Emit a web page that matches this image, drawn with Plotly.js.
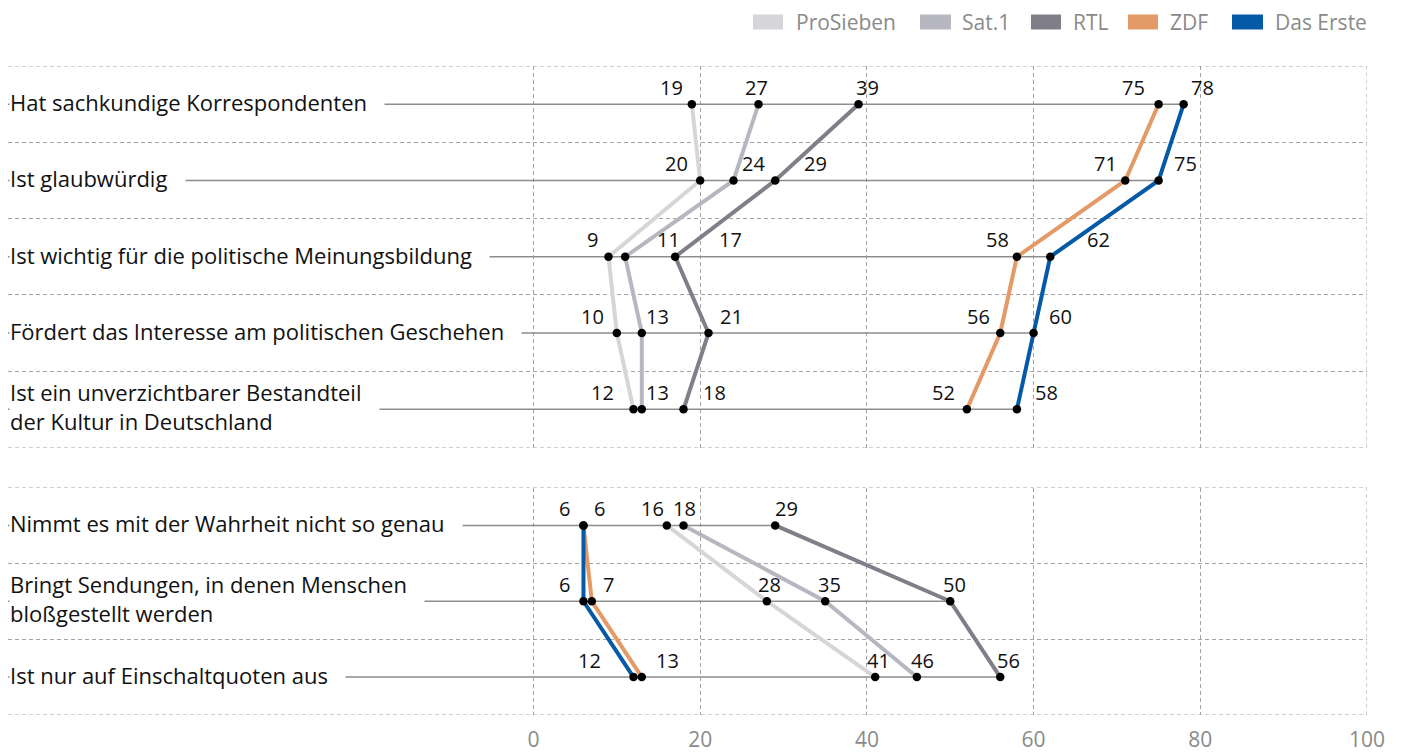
<!DOCTYPE html>
<html><head><meta charset="utf-8">
<script src="https://cdn.plot.ly/plotly-3.0.1.min.js"></script>
<style>html,body{margin:0;padding:0;background:#fff}#chart{width:1404px;height:752px}</style>
</head><body><div id="chart"></div>
<script>
// ---------- data ----------
const channels = ['ProSieben', 'Sat.1', 'RTL', 'ZDF', 'Das Erste'];

const topRows = [
  'Hat sachkundige Korrespondenten',
  'Ist glaubwürdig',
  'Ist wichtig für die politische Meinungsbildung',
  'Fördert das Interesse am politischen Geschehen',
  'Ist ein unverzichtbarer Bestandteil<br>der Kultur in Deutschland'
];
const topProSieben = [19, 20, 9, 10, 12];
const topSat1      = [27, 24, 11, 13, 13];
const topRTL       = [39, 29, 17, 21, 18];
const topZDF       = [75, 71, 58, 56, 52];
const topDasErste  = [78, 75, 62, 60, 58];

const bottomRows = [
  'Nimmt es mit der Wahrheit nicht so genau',
  'Bringt Sendungen, in denen Menschen<br>bloßgestellt werden',
  'Ist nur auf Einschaltquoten aus'
];
const bottomProSieben = [16, 28, 41];
const bottomSat1      = [18, 35, 46];
const bottomRTL       = [29, 50, 56];
const bottomZDF       = [6, 7, 13];
const bottomDasErste  = [6, 6, 12];

const xTicks = [0, 20, 40, 60, 80, 100];

// ---------- styles ----------
const colors = ['#d5d5da', '#b7b7c1', '#7f7e89', '#e39a66', '#055aa8'];
// horizontal pixel shift of each value label (per channel, per row)
const topLabelShift = [
  [-20, -24, -16, -24, -31],
  [-2, 20, 43, 16, 16],
  [9, 40, 55, 23, 31],
  [-25, -20, -19, -22, -23],
  [19, 27, 48, 27, 30]
];
const bottomLabelShift = [
  [-14, 3, 3],
  [1, 4, 6],
  [11, 4, 8],
  [16, 17, 26],
  [-19, -19, -44]
];

const FONT = 'Open Sans, Noto Sans, sans-serif';
const W = 1404, H = 752, M = {l: 8, r: 37, t: 66, b: 37};
const PW = W - M.l - M.r, PH = H - M.t - M.b;
const px2px = x => (x - M.l) / PW;
const py2py = y => (H - M.b - y) / PH;
const GAP = '\u00a0\u00a0\u00a0';

const groups = [
  {rows: topRows, series: [topProSieben, topSat1, topRTL, topZDF, topDasErste], shift: topLabelShift, ax: 'y'},
  {rows: bottomRows, series: [bottomProSieben, bottomSat1, bottomRTL, bottomZDF, bottomDasErste], shift: bottomLabelShift, ax: 'y2'}
];

const xMin = -63.04, xMax = 100;
const traces = [];
const annotations = [];
const shapes = [];
const grid = {color: '#a3a3a3', dash: '4px,3px'};

groups.forEach(g => {
  const idx = g.rows.map((_, i) => i);
  // row lines from the label to the largest value
  g.rows.forEach((r, i) => {
    const mx = Math.max(...g.series.map(s => s[i]));
    traces.push({x: [xMin, mx], y: [i, i], yaxis: g.ax, mode: 'lines',
      line: {color: '#8d8d8d', width: 1.5}, hoverinfo: 'skip', showlegend: false});
  });
  // channel lines
  g.series.forEach((s, c) => {
    traces.push({x: s, y: idx, yaxis: g.ax, mode: 'lines', name: channels[c],
      line: {color: colors[c], width: 4}, showlegend: false});
  });
  // dots
  const dx = [], dy = [];
  g.series.forEach(s => s.forEach((v, i) => { dx.push(v); dy.push(i); }));
  traces.push({x: dx, y: dy, yaxis: g.ax, mode: 'markers',
    marker: {color: '#000', size: 8.5}, showlegend: false, hoverinfo: 'x'});
  // value labels
  g.series.forEach((s, c) => s.forEach((v, i) => {
    annotations.push({x: v, y: i, xref: 'x', yref: g.ax, text: String(v), showarrow: false,
      xshift: g.shift[c][i], yshift: 17, font: {family: FONT, size: 20, color: '#111'}});
  }));
  // category labels
  g.rows.forEach((r, i) => {
    const multi = r.indexOf('<br>') >= 0;
    annotations.push({x: 0, y: i, xref: 'paper', yref: g.ax, xanchor: 'left', align: 'left',
      text: r.split('<br>').map(l => l + GAP).join('<br>'), showarrow: false, bgcolor: '#fff',
      borderpad: 0, xshift: 1, yshift: multi ? 3 : 2,
      font: {family: FONT, size: 22, color: '#111'}});
  });
  // boundary grid lines (top / bottom of each block, right edge)
  [-0.5, g.rows.length - 0.5].forEach(b => {
    shapes.push({type: 'line', layer: 'below', xref: 'paper', x0: 0, x1: 1, yref: g.ax, y0: b, y1: b,
      line: {color: grid.color, width: 1, dash: grid.dash}});
  });
  shapes.push({type: 'line', layer: 'below', xref: 'x', x0: xMax, x1: xMax, yref: g.ax + ' domain', y0: 0, y1: 1,
    line: {color: grid.color, width: 1, dash: grid.dash}});
});

// legend (drawn as shapes + text)
const legendItems = [
  {rect: [753, 783], text: 794},
  {rect: [920, 951], text: 960},
  {rect: [1031, 1061], text: 1071},
  {rect: [1128, 1158], text: 1168},
  {rect: [1232, 1263], text: 1273}
];
legendItems.forEach((it, c) => {
  shapes.push({type: 'rect', xref: 'paper', yref: 'paper', x0: px2px(it.rect[0]), x1: px2px(it.rect[1]),
    y0: py2py(29.5), y1: py2py(14.5), fillcolor: colors[c], line: {width: 0}});
  annotations.push({xref: 'paper', yref: 'paper', x: px2px(it.text), y: py2py(22), xanchor: 'left', yanchor: 'middle',
    text: channels[c], showarrow: false, font: {family: FONT, size: 21, color: '#8a8a8a'}});
});

const layout = {
  width: W, height: H, margin: M, paper_bgcolor: '#fff', plot_bgcolor: '#fff',
  showlegend: false, hovermode: 'closest',
  xaxis: {range: [xMin, xMax], tickvals: xTicks, ticktext: xTicks.map(String), anchor: 'y2',
    showgrid: true, gridcolor: grid.color, griddash: grid.dash, gridwidth: 1,
    zeroline: false, showline: false, ticks: '', ticklabelstandoff: 10,
    tickfont: {family: FONT, size: 21, color: '#8a8a8a'}},
  yaxis: {domain: [py2py(447.5), 1], range: [4.5, -0.5], tickvals: [-0.5, 0.5, 1.5, 2.5, 3.5, 4.5],
    showticklabels: false, showgrid: true, gridcolor: grid.color, griddash: grid.dash, zeroline: false, ticks: ''},
  yaxis2: {domain: [0, py2py(487.5)], range: [2.5, -0.5], tickvals: [-0.5, 0.5, 1.5, 2.5],
    showticklabels: false, showgrid: true, gridcolor: grid.color, griddash: grid.dash, zeroline: false, ticks: ''},
  annotations: annotations,
  shapes: shapes
};

Plotly.newPlot('chart', traces, layout, {displayModeBar: false, staticPlot: true});
</script>
</body></html>
